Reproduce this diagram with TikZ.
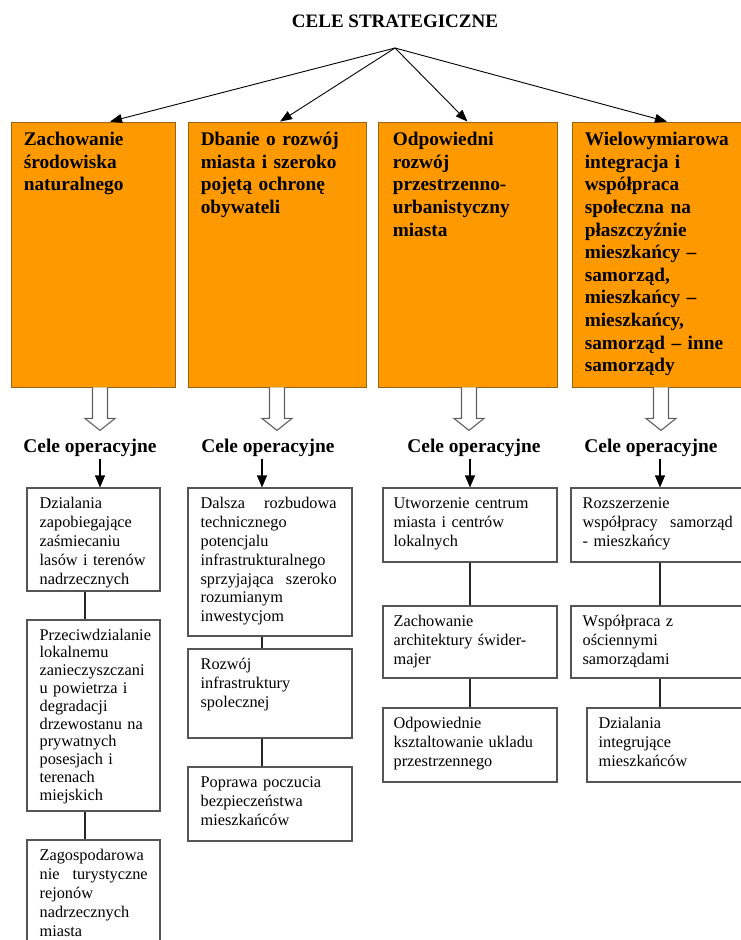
\documentclass[tikz,border=0pt]{standalone}
\usepackage{fontspec}
\setmainfont{Liberation Serif}
\usepackage{tikz}
\usetikzlibrary{arrows.meta,positioning}
\definecolor{cspomar}{RGB}{255,153,0}
\definecolor{cspbrz}{RGB}{150,100,20}
\definecolor{cspszary}{RGB}{85,85,85}
\definecolor{cspjasny}{RGB}{95,95,95}

\tikzset{
  celbox/.style={rectangle, fill=cspomar, draw=cspbrz, line width=0.8pt,
                 minimum height=265pt, inner sep=0pt},
  celtxt/.style={inner sep=0pt, text width=158pt, align=left,
                 font=\fontsize{19.3}{22.6}\selectfont\bfseries},
  opbox/.style={rectangle, fill=white, draw=cspszary, line width=1.1pt, inner sep=0pt},
  optxt/.style={inner sep=0pt, align=left,
                font=\fontsize{16.3}{18.8}\selectfont},
  opis/.style={inner sep=2pt, font=\fontsize{19.4}{22}\selectfont\bfseries},
  topstrz/.style={-{Triangle[length=12pt,width=9pt]}, line width=0.9pt},
  opstrz/.style={-{Triangle[length=12pt,width=10pt]}, line width=1.1pt},
  lacz/.style={line width=1.3pt, draw=black!85},
  pusta/.style={draw=cspjasny, fill=white, line width=1.1pt}
}

\begin{document}
\begin{tikzpicture}[x=1pt,y=-1pt]
  \useasboundingbox (0,0) rectangle (741,940);
  \clip (0,0) rectangle (741,940);

  \node[font=\fontsize{19}{22}\selectfont\bfseries] (title) at (395,21) {CELE STRATEGICZNE};
  \coordinate (hub) at (395,48);

  \node[celbox, minimum width=164pt] (g1) at (93,254.5) {};
  \node[celbox, minimum width=178pt] (g2) at (277,254.5) {};
  \node[celbox, minimum width=179pt] (g3) at (467.5,254.5) {};
  \node[celbox, minimum width=178pt] (g4) at (661,254.5) {};

  \node[celtxt, below right=8pt and 13pt of g1.north west] (g1t)
    {\strut Zachowanie\\ środowiska\\ naturalnego};
  \node[celtxt, below right=8pt and 13pt of g2.north west] (g2t)
    {\strut Dbanie o rozwój\\ miasta i szeroko\\ pojętą ochronę\\ obywateli};
  \node[celtxt, below right=8pt and 15pt of g3.north west] (g3t)
    {\strut Odpowiedni\\ rozwój\\ przestrzenno-\\ urbanistyczny\\ miasta};
  \node[celtxt, below right=8pt and 13pt of g4.north west] (g4t)
    {\strut Wielowymiarowa\\ integracja i\\ współpraca\\ społeczna na\\ płaszczyźnie\\
     mieszkańcy --\\ samorząd,\\ mieszkańcy --\\ mieszkańcy,\\ samorząd -- inne\\ samorządy};

  \draw[topstrz] (hub) -- ([xshift=17pt]g1.north);
  \draw[topstrz] (hub) -- ([xshift=3pt]g2.north);
  \draw[topstrz] (hub) -- (g3.north);
  \draw[topstrz] (hub) -- ([xshift=6pt]g4.north);

  \foreach \g/\dx in {g1/7pt, g2/0pt, g3/1.5pt, g4/0pt}
    \draw[pusta] ([xshift=\dx]\g.south) ++(-7.5,0) -- ++(0,31) -- ++(-7.5,0)
      -- ++(15,12) -- ++(15,-12) -- ++(-7.5,0) -- ++(0,-31);

  \node[opis] (op1) at (90,448) {Cele operacyjne};
  \node[opis] (op2) at (268,448) {Cele operacyjne};
  \node[opis] (op3) at (474,448) {Cele operacyjne};
  \node[opis] (op4) at (651,448) {Cele operacyjne};

  % kolumna 1
  \node[opbox, minimum width=133pt, minimum height=103pt] (a1) at (93.5,539.5) {};
  \node[opbox, minimum width=133pt, minimum height=191pt] (a2) at (93.5,715.5) {};
  \node[opbox, minimum width=133pt, minimum height=120pt] (a3) at (93.5,900) {};
  \node[optxt, text width=108pt, below right=8pt and 13pt of a1.north west] (a1t)
    {\strut Dzialania\\ zapobiegające\\ zaśmiecaniu\\ lasów i terenów\\ nadrzecznych};
  \node[optxt, text width=108pt, below right=8pt and 13pt of a2.north west,
        font=\fontsize{16.3}{17.8}\selectfont] (a2t)
    {\strut Przeciwdzialanie\\ lokalnemu\\ zanieczyszczani\\ u powietrza i\\ degradacji\\
     drzewostanu na\\ prywatnych\\ posesjach i\\ terenach\\ miejskich};
  \node[optxt, text width=108pt, below right=8pt and 13pt of a3.north west] (a3t)
    {\strut Zagospodarowa\\ nie\hfill turystyczne\\ rejonów\\ nadrzecznych\\ miasta};

  % kolumna 2
  \node[opbox, minimum width=164pt, minimum height=148pt] (b1) at (270,562) {};
  \node[opbox, minimum width=164pt, minimum height=89pt] (b2) at (270,693.5) {};
  \node[opbox, minimum width=164pt, minimum height=74pt] (b3) at (270,804) {};
  \node[optxt, text width=136pt, below right=8pt and 13pt of b1.north west] (b1t)
    {\strut Dalsza\hfill rozbudowa\\ technicznego\\ potencjalu\\ infrastrukturalnego\\
     sprzyjająca\hfill szeroko\\ rozumianym\\ inwestycjom};
  \node[optxt, text width=136pt, below right=8pt and 13pt of b2.north west] (b2t)
    {\strut Rozwój\\ infrastruktury\\ spolecznej};
  \node[optxt, text width=136pt, below right=8pt and 13pt of b3.north west] (b3t)
    {\strut Poprawa poczucia\\ bezpieczeństwa\\ mieszkańców};

  % kolumna 3
  \node[opbox, minimum width=174pt, minimum height=74pt] (c1) at (470,525) {};
  \node[opbox, minimum width=174pt, minimum height=72pt] (c2) at (470,642) {};
  \node[opbox, minimum width=174pt, minimum height=74pt] (c3) at (470,745) {};
  \node[optxt, text width=150pt, below right=8pt and 11pt of c1.north west] (c1t)
    {\strut Utworzenie centrum\\ miasta i centrów\\ lokalnych};
  \node[optxt, text width=150pt, below right=8pt and 11pt of c2.north west] (c2t)
    {\strut Zachowanie\\ architektury świder-\\ majer};
  \node[optxt, text width=150pt, below right=8pt and 11pt of c3.north west] (c3t)
    {\strut Odpowiednie\\ ksztaltowanie ukladu\\ przestrzennego};

  % kolumna 4
  \node[opbox, minimum width=178pt, minimum height=74pt] (d1) at (660,525) {};
  \node[opbox, minimum width=178pt, minimum height=72pt] (d2) at (660,642) {};
  \node[opbox, minimum width=162pt, minimum height=74pt] (d3) at (668,745) {};
  \node[optxt, text width=150pt, below right=8pt and 12pt of d1.north west] (d1t)
    {\strut Rozszerzenie\\ współpracy\hfill samorząd\\ - mieszkańcy};
  \node[optxt, text width=150pt, below right=8pt and 12pt of d2.north west] (d2t)
    {\strut Współpraca z\\ ościennymi\\ samorządami};
  \node[optxt, text width=140pt, below right=8pt and 12pt of d3.north west] (d3t)
    {\strut Dzialania\\ integrujące\\ mieszkańców};

  \draw[opstrz] ([xshift=6.5pt]a1.north |- op1.south) -- ([xshift=6.5pt]a1.north);
  \draw[opstrz] ([xshift=-8pt]b1.north |- op2.south) -- ([xshift=-8pt]b1.north);
  \draw[opstrz] (c1.north |- op3.south) -- (c1.north);
  \draw[opstrz] (d1.north |- op4.south) -- (d1.north);

  \draw[lacz] ([xshift=-8.5pt]a1.south) -- ([xshift=-8.5pt]a2.north);
  \draw[lacz] ([xshift=-8.5pt]a2.south) -- ([xshift=-8.5pt]a3.north);
  \draw[lacz] ([xshift=-8pt]b1.south) -- ([xshift=-8pt]b2.north);
  \draw[lacz] ([xshift=-8pt]b2.south) -- ([xshift=-8pt]b3.north);
  \draw[lacz] (c1.south) -- (c2.north);
  \draw[lacz] (c2.south) -- (c3.north);
  \draw[lacz] (d1.south) -- (d2.north);
  \draw[lacz] (d2.south) -- ([xshift=-8pt]d3.north);
\end{tikzpicture}
\end{document}
